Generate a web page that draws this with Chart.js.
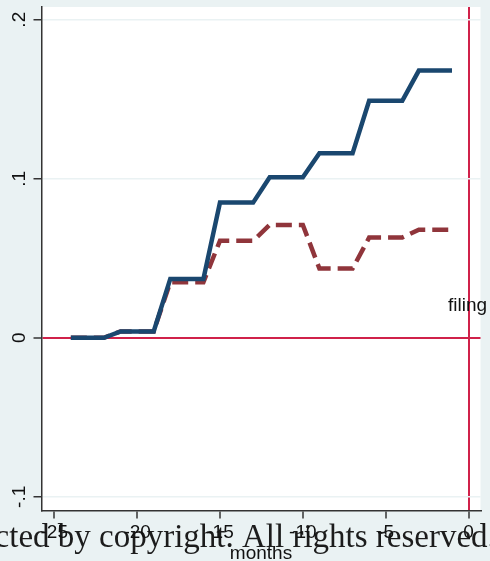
<!DOCTYPE html>
<html>
<head>
<meta charset="utf-8">
<script src="https://cdn.jsdelivr.net/npm/chart.js@4/dist/chart.umd.min.js"></script>
<style>
  html, body { margin: 0; padding: 0; background: #eaf2f3; }
  #wrap { width: 490px; height: 561px; position: relative; }
</style>
</head>
<body>
<div id="wrap"><canvas id="c" width="490" height="561"></canvas></div>
<script>
// ---- data ----
const months = [-24,-23,-22,-21,-20,-19,-18,-17,-16,-15,-14,-13,-12,-11,-10,-9,-8,-7,-6,-5,-4,-3,-2,-1];
const seriesSolid = [0,0,0, 0.004,0.004,0.004, 0.037,0.037,0.037, 0.085,0.085,0.085, 0.101,0.101,0.101, 0.116,0.116,0.116, 0.149,0.149,0.149, 0.168,0.168,0.168];
const seriesDashed = [0,0,0, 0.004,0.004,0.004, 0.035,0.035,0.035, 0.061,0.061,0.061, 0.071,0.071,0.071, 0.0435,0.0435,0.0435, 0.063,0.063,0.063, 0.068,0.068,0.068];
const xTickValues = [-25,-20,-15,-10,-5,0];
const xTickLabels = ['-25','-20','-15','-10','-5','0'];
const yTickValues = [-0.1,0,0.1,0.2];
const yTickLabels = ['-.1','0','.1','.2'];
const xTitle = 'months';
const eventLabel = 'filing';
const eventLabelY = 0.0204;
const watermark = 'protected by copyright. All rights reserved.';

const BG = '#eaf2f3';
const RED = '#d0214a';

const bgPlugin = {
  id: 'bg',
  beforeDraw(chart) {
    const {ctx, chartArea: a} = chart;
    ctx.save();
    ctx.fillStyle = BG;
    ctx.fillRect(0, 0, chart.width, chart.height);
    ctx.fillStyle = '#ffffff';
    ctx.fillRect(a.left, a.top, a.right - a.left, a.bottom - a.top);
    // watermark underneath the axis labels
    ctx.font = '33px "Liberation Serif", "DejaVu Serif", serif';
    ctx.textAlign = 'left';
    ctx.textBaseline = 'alphabetic';
    ctx.fillStyle = '#1c1c1c';
    const idx = watermark.indexOf('All');
    const pre = ctx.measureText(watermark.slice(0, idx)).width;
    ctx.fillText(watermark, 242 - pre, 547);
    ctx.restore();
  },
  afterDraw(chart) {
    const {ctx} = chart;
    const xs = chart.scales.x, ys = chart.scales.y;
    ctx.save();
    ctx.fillStyle = '#111111';
    ctx.font = '19px "Liberation Sans", Arial, sans-serif';
    ctx.textAlign = 'center';
    ctx.textBaseline = 'middle';
    ctx.fillText(eventLabel, xs.getPixelForValue(0) - 1, ys.getPixelForValue(eventLabelY));
    ctx.restore();
  }
};

new Chart(document.getElementById('c'), {
  type: 'line',
  data: {
    datasets: [
      {
        data: months.map((m, i) => ({x: m, y: seriesSolid[i]})),
        borderColor: '#1a476f',
        borderWidth: 4.5,
        pointRadius: 0,
        tension: 0,
        borderJoinStyle: 'miter'
      },
      {
        data: months.map((m, i) => ({x: m, y: seriesDashed[i]})),
        borderColor: '#90353b',
        borderWidth: 4.5,
        borderDash: [16, 7],
        pointRadius: 0,
        tension: 0,
        borderJoinStyle: 'miter'
      }
    ]
  },
  options: {
    responsive: false,
    animation: false,
    devicePixelRatio: 1,
    layout: { padding: { top: 7, right: 9.5, left: 0, bottom: 0 } },
    plugins: { legend: { display: false }, tooltip: { enabled: false }, title: { display: false } },
    font: { family: '"Liberation Sans", Arial, sans-serif' },
    scales: {
      x: {
        type: 'linear',
        min: -25.77,
        max: 0.72,
        afterBuildTicks(s) { s.ticks = xTickValues.map(v => ({value: v})); },
        afterFit(s) { s.height = 50.5; s.paddingLeft = 0; s.paddingRight = 0; },
        ticks: {
          callback: (v) => { const i = xTickValues.indexOf(v); return i >= 0 ? xTickLabels[i] : ''; },
          font: { size: 19, family: '"Liberation Sans", Arial, sans-serif' },
          color: '#111111',
          padding: 3,
          maxRotation: 0,
          minRotation: 0,
          autoSkip: false
        },
        grid: {
          color: (c) => c.tick && c.tick.value === 0 ? RED : 'rgba(0,0,0,0)',
          lineWidth: 2,
          tickColor: '#333333',
          tickLength: 8,
          tickWidth: 1.5,
          drawOnChartArea: true
        },
        border: { color: '#333333', width: 1.5 },
        title: {
          display: true,
          text: xTitle,
          font: { size: 19, family: '"Liberation Sans", Arial, sans-serif' },
          color: '#111111',
          padding: { top: 0, bottom: -4 }
        }
      },
      y: {
        type: 'linear',
        min: -0.1086,
        max: 0.208,
        afterBuildTicks(s) { s.ticks = yTickValues.map(v => ({value: v})); },
        afterFit(s) { s.width = 41.5; s.paddingTop = 0; s.paddingBottom = 0; },
        ticks: {
          callback: (v) => { const i = yTickValues.findIndex(t => Math.abs(t - v) < 1e-9); return i >= 0 ? yTickLabels[i] : ''; },
          font: { size: 19, family: '"Liberation Sans", Arial, sans-serif' },
          color: '#111111',
          minRotation: 90,
          maxRotation: 90,
          crossAlign: 'center',
          padding: 2.5,
          autoSkip: false
        },
        grid: {
          color: (c) => c.tick && Math.abs(c.tick.value) < 1e-9 ? RED : BG,
          lineWidth: (c) => c.tick && Math.abs(c.tick.value) < 1e-9 ? 2 : 1.5,
          tickColor: '#333333',
          tickLength: 8,
          tickWidth: 1.5
        },
        border: { color: '#333333', width: 1.5 }
      }
    }
  },
  plugins: [bgPlugin]
});
</script>
</body>
</html>
